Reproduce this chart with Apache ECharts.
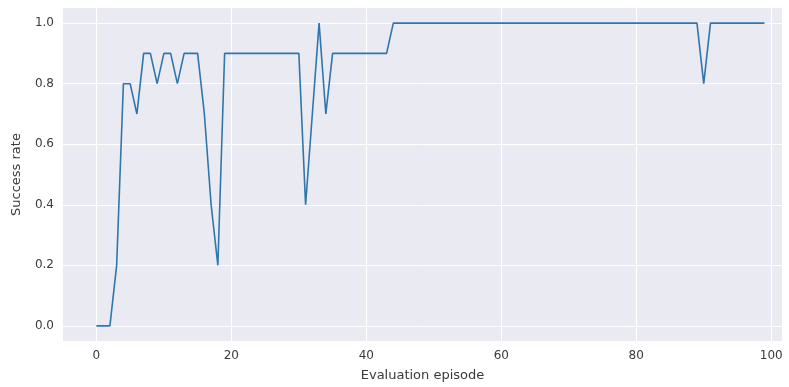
<!DOCTYPE html>
<html>
<head>
<meta charset="utf-8">
<script src="https://cdn.jsdelivr.net/npm/echarts@6/dist/echarts.min.js"></script>
<style>
html,body{margin:0;padding:0;background:#fff;}
#chart{width:789px;height:387px;}
</style>
</head>
<body>
<div id="chart"></div>
<script>
// Evaluation episodes 0..99
const episodes = [
  0,1,2,3,4,5,6,7,8,9,10,11,12,13,14,15,16,17,18,19,
  20,21,22,23,24,25,26,27,28,29,30,31,32,33,34,35,36,37,38,39,
  40,41,42,43,44,45,46,47,48,49,50,51,52,53,54,55,56,57,58,59,
  60,61,62,63,64,65,66,67,68,69,70,71,72,73,74,75,76,77,78,79,
  80,81,82,83,84,85,86,87,88,89,90,91,92,93,94,95,96,97,98,99
];
const successRate = [
  0.0,0.0,0.0,0.2,0.8,0.8,0.7,0.9,0.9,0.8,0.9,0.9,0.8,0.9,0.9,0.9,0.7,0.4,0.2,0.9,
  0.9,0.9,0.9,0.9,0.9,0.9,0.9,0.9,0.9,0.9,0.9,0.4,0.7,1.0,0.7,0.9,0.9,0.9,0.9,0.9,
  0.9,0.9,0.9,0.9,1.0,1.0,1.0,1.0,1.0,1.0,1.0,1.0,1.0,1.0,1.0,1.0,1.0,1.0,1.0,1.0,
  1.0,1.0,1.0,1.0,1.0,1.0,1.0,1.0,1.0,1.0,1.0,1.0,1.0,1.0,1.0,1.0,1.0,1.0,1.0,1.0,
  1.0,1.0,1.0,1.0,1.0,1.0,1.0,1.0,1.0,1.0,0.8,1.0,1.0,1.0,1.0,1.0,1.0,1.0,1.0,1.0
];
const xTicks = [0, 20, 40, 60, 80, 100];
const yTicks = [0.0, 0.2, 0.4, 0.6, 0.8, 1.0];

const chart = echarts.init(document.getElementById('chart'), null, {renderer: 'canvas'});
const labelColor = '#3a3a3a';
chart.setOption({
  animation: false,
  backgroundColor: '#ffffff',
  grid: {left: 63, right: 7, top: 8, bottom: 46, show: true, backgroundColor: '#EAEAF2', borderWidth: 0},
  xAxis: {
    type: 'value',
    min: -4.95, max: 101.6,
    name: 'Evaluation episode',
    nameLocation: 'middle',
    nameGap: 28,
    nameTextStyle: {color: labelColor, fontSize: 13, fontFamily: 'DejaVu Sans'},
    axisLine: {show: false},
    axisTick: {show: false, customValues: xTicks},
    axisLabel: {customValues: xTicks, color: labelColor, fontSize: 12, fontFamily: 'DejaVu Sans', margin: 9},
    splitLine: {show: true, lineStyle: {color: '#ffffff', width: 1}}
  },
  yAxis: {
    type: 'value',
    min: -0.05, max: 1.05,
    name: 'Success rate',
    nameLocation: 'middle',
    nameGap: 40,
    nameTextStyle: {color: labelColor, fontSize: 13, fontFamily: 'DejaVu Sans'},
    axisLine: {show: false},
    axisTick: {show: false, customValues: yTicks},
    axisLabel: {customValues: yTicks, color: labelColor, fontSize: 12, fontFamily: 'DejaVu Sans', margin: 9,
      formatter: v => v.toFixed(1)},
    splitLine: {show: true, lineStyle: {color: '#ffffff', width: 1}}
  },
  series: [{
    type: 'line',
    data: episodes.map((e, i) => [e, successRate[i]]),
    showSymbol: false,
    lineStyle: {color: '#2f76ab', width: 1.6},
    itemStyle: {color: '#2f76ab'}
  }]
});
</script>
</body>
</html>
